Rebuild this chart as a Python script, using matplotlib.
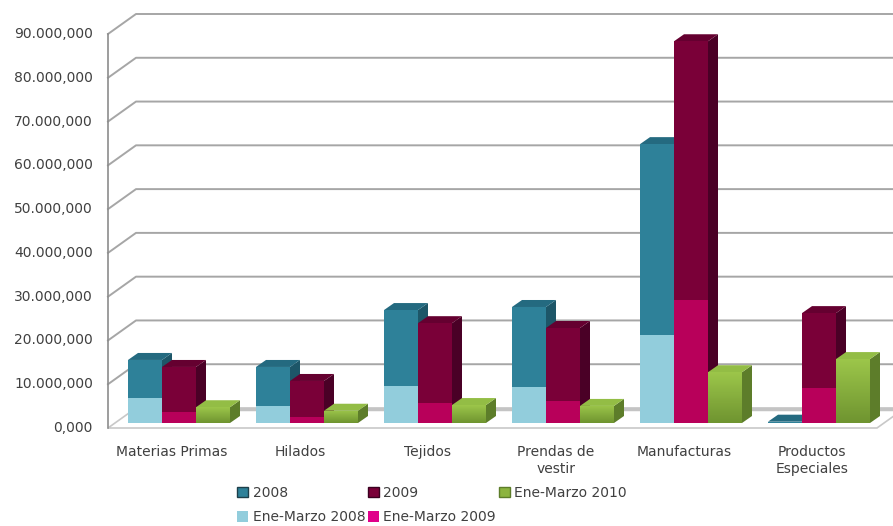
import matplotlib
matplotlib.use("Agg")
import matplotlib.pyplot as plt
from matplotlib.patches import Polygon, Patch
from matplotlib.colors import LinearSegmentedColormap
import numpy as np

categories = ["Materias Primas", "Hilados", "Tejidos", "Prendas de\nvestir",
              "Manufacturas", "Productos\nEspeciales"]
y2008 = [14.4e6, 12.8e6, 25.8e6, 26.5e6, 63.7e6, 0.3e6]
y2009 = [12.8e6, 9.6e6, 22.8e6, 21.7e6, 87.2e6, 25.1e6]
em2010 = [3.6e6, 2.8e6, 4.1e6, 3.9e6, 11.6e6, 14.6e6]
em2008 = [5.7e6, 3.9e6, 8.5e6, 8.2e6, 20.1e6, 0.0]
em2009 = [2.5e6, 1.4e6, 4.6e6, 5.0e6, 28.1e6, 8.0e6]
yticks = [0, 10e6, 20e6, 30e6, 40e6, 50e6, 60e6, 70e6, 80e6, 90e6]
ytick_labels = ["0,000", "10.000,000", "20.000,000", "30.000,000", "40.000,000",
                "50.000,000", "60.000,000", "70.000,000", "80.000,000", "90.000,000"]
legend_labels = ["2008", "Ene-Marzo 2008", "2009", "Ene-Marzo 2009", "Ene-Marzo 2010"]

W, H = 893, 526
fig = plt.figure(figsize=(W / 100, H / 100), dpi=100)
ax = fig.add_axes([0, 0, 1, 1])
ax.axis("off")

# pixel -> data scale
CX0, PXW = 172.0, 128.0          # first category centre (px), px per category
Y0PX, PY = 428.0, 90e6 / 394.0    # zero line (px from top), value per px
PX = 1.0 / PXW
ax.set_xlim(-CX0 * PX, (W - CX0) * PX)
ax.set_ylim(-(H - Y0PX) * PY, Y0PX * PY)

TXT = "#404040"
GRID = "#a6a6a6"
x_left = (108 - CX0) * PX
x_right = (877 - CX0) * PX
wdx, wdy = 28 * PX, 20 * PY        # wall depth

# floor
floor = Polygon([(x_left, 0), (x_right, 0), (x_right + wdx, wdy), (x_left + wdx, wdy)],
                closed=True, facecolor="white", edgecolor="#c8c8c8", lw=1.2, zorder=1)
ax.add_patch(floor)
ax.plot([x_left + wdx, x_right + wdx], [wdy - 0.3e6, wdy - 0.3e6], color="#c4c4c4", lw=2.5,
        zorder=1, solid_capstyle="butt")

# gridlines / walls
for v in yticks[1:]:
    ax.plot([x_left, x_left + wdx, W * PX], [v, v + wdy, v + wdy], color=GRID, lw=1.4,
            zorder=1)
ax.plot([x_left, x_left], [0, yticks[-1]], color="#8c8c8c", lw=1.2, zorder=1)

for v, lab in zip(yticks, ytick_labels):
    ax.text((93 - CX0) * PX, v, lab, ha="right", va="center", fontsize=10, color=TXT)

xc = np.arange(len(categories))
for x, lab in zip(xc, categories):
    ax.text(x, -(445 - Y0PX) * PY, lab, ha="center", va="top", fontsize=10, color=TXT,
            linespacing=1.25)

# bar geometry
bw = 34 * PX
bdx, bdy = 7 * PX, 5 * PY          # bar position inside floor depth
ddx, ddy = 10 * PX, 7 * PY          # bar depth


def bar3d(xs, vals, front, top, side, grad=None):
    for x, v in zip(xs, vals):
        x0 = x + bdx
        x1 = x0 + bw
        b = bdy
        h = b + v
        ax.add_patch(Polygon([(x1, b), (x1 + ddx, b + ddy), (x1 + ddx, h + ddy), (x1, h)],
                             closed=True, facecolor=side, edgecolor="none", zorder=3))
        ax.add_patch(Polygon([(x0, h), (x1, h), (x1 + ddx, h + ddy), (x0 + ddx, h + ddy)],
                             closed=True, facecolor=top, edgecolor="none", zorder=3))
        if grad is None:
            ax.bar(x0, v, width=bw, bottom=b, align="edge", color=front, zorder=3,
                   linewidth=0)
        else:
            rect = ax.bar(x0, v, width=bw, bottom=b, align="edge", color="none", zorder=3,
                          linewidth=0)[0]
            g = np.linspace(0, 1, 64).reshape(-1, 1)
            im = ax.imshow(g, extent=[x0, x1, b, h], origin="lower", aspect="auto",
                           cmap=grad, zorder=3)
            im.set_clip_path(rect)


def flat(xs, vals, color):
    for x, v in zip(xs, vals):
        ax.bar(x + bdx, v, width=bw, bottom=bdy, align="edge", color=color, zorder=3,
               linewidth=0)


green_cmap = LinearSegmentedColormap.from_list("g", ["#6f9430", "#9cc64a"])

C08, C08t, C08s = "#2e8199", "#246a80", "#1d5668"
C09, C09t, C09s = "#7a0038", "#650030", "#4a0026"
CG, CGt, CGs = "#8cb43f", "#93bd45", "#5d7d2a"
CE08, CE09 = "#92cddc", "#b8005a"

start = xc - 1.5 * bw
bar3d(start, y2008, C08, C08t, C08s)
flat(start, em2008, CE08)
bar3d(start + bw, y2009, C09, C09t, C09s)
flat(start + bw, em2009, CE09)
bar3d(start + 2 * bw, em2010, CG, CGt, CGs, grad=green_cmap)

ax.set_xlim(-CX0 * PX, (W - CX0) * PX)
ax.set_ylim(-(H - Y0PX) * PY, Y0PX * PY)

handles = [Patch(facecolor=C08, edgecolor="#1d3f4a"), Patch(facecolor=CE08),
           Patch(facecolor=C09, edgecolor="#3a0020"), Patch(facecolor="#e0008a"),
           Patch(facecolor=CG, edgecolor="#5d7d2a")]
fig.legend(handles, legend_labels, ncol=3, loc="center", bbox_to_anchor=(432 / W, 1 - 505 / H),
           frameon=False, fontsize=10, handlelength=0.8, handleheight=0.8, handletextpad=0.3,
           columnspacing=0.2, labelspacing=0.75, labelcolor=TXT)

fig.savefig("out.png", dpi=100)
